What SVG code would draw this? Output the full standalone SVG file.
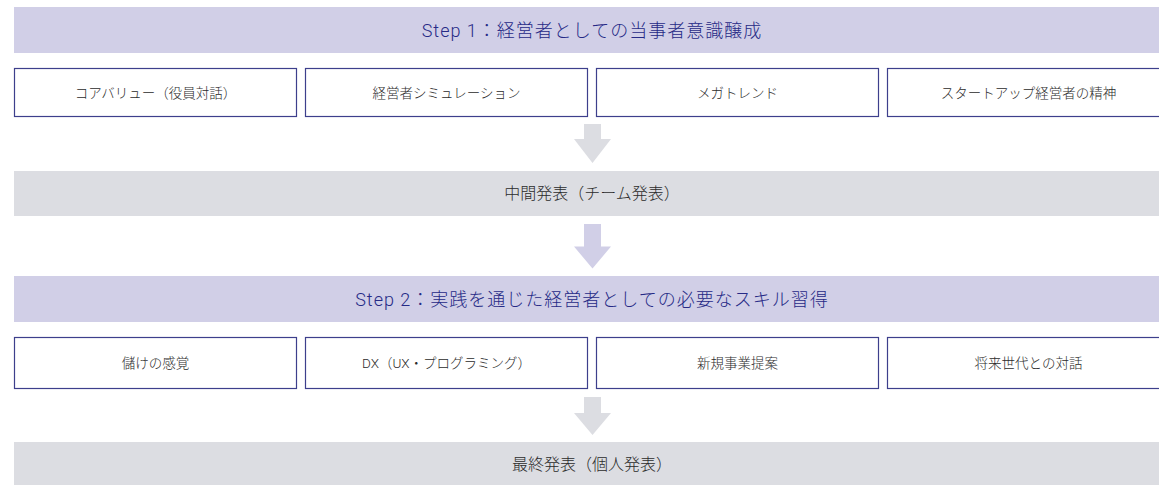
<svg xmlns="http://www.w3.org/2000/svg" width="1159" height="485" viewBox="0 0 1159 485">
<style>
.step{fill:#d1cfe7}
.gray{fill:#dcdde2}
.box{fill:#ffffff;stroke:#3d3f8c;stroke-width:1.2}
.title{font-family:Roboto,"Noto Sans CJK JP",sans-serif;font-size:18px;font-weight:300;letter-spacing:1px;fill:#262a86;text-anchor:middle}
.lbl{font-family:Roboto,"Noto Sans CJK JP",sans-serif;font-size:13.5px;font-weight:300;fill:#2b2b2b;text-anchor:middle}
.mid{font-family:Roboto,"Noto Sans CJK JP",sans-serif;font-size:16px;font-weight:300;fill:#2b2b2b;text-anchor:middle}
.ag{fill:#dcdde2}
.al{fill:#d1cfe7}
</style>
<rect width="1159" height="485" fill="#ffffff"/>
<g id="step1"><rect class="step" x="14" y="7" width="1156" height="46"/><text class="title" x="592" y="37">Step 1：経営者としての当事者意識醸成</text></g>
<g id="b1"><rect class="box" x="14.5" y="68.5" width="282" height="48"/><text class="lbl" x="155.5" y="98">コアバリュー（役員対話）</text></g>
<g id="b2"><rect class="box" x="305.5" y="68.5" width="282" height="48"/><text class="lbl" x="446.5" y="98">経営者シミュレーション</text></g>
<g id="b3"><rect class="box" x="596.5" y="68.5" width="282" height="48"/><text class="lbl" x="737.5" y="98">メガトレンド</text></g>
<g id="b4"><rect class="box" x="887.5" y="68.5" width="282" height="48"/><text class="lbl" x="1028.5" y="98">スタートアップ経営者の精神</text></g>
<g id="mid"><rect class="gray" x="14" y="171" width="1156" height="45"/><text class="mid" x="592" y="199">中間発表（チーム発表）</text></g>
<g id="step2"><rect class="step" x="14" y="276" width="1156" height="46"/><text class="title" x="592" y="306">Step 2：実践を通じた経営者としての必要なスキル習得</text></g>
<g id="c1"><rect class="box" x="14.5" y="337.5" width="282" height="51"/><text class="lbl" x="155.5" y="368">儲けの感覚</text></g>
<g id="c2"><rect class="box" x="305.5" y="337.5" width="282" height="51"/><text class="lbl" x="446.5" y="368">DX（UX・プログラミング）</text></g>
<g id="c3"><rect class="box" x="596.5" y="337.5" width="282" height="51"/><text class="lbl" x="737.5" y="368">新規事業提案</text></g>
<g id="c4"><rect class="box" x="887.5" y="337.5" width="282" height="51"/><text class="lbl" x="1028.5" y="368">将来世代との対話</text></g>
<g id="final"><rect class="gray" x="14" y="442" width="1156" height="43"/><text class="mid" x="592" y="470">最終発表（個人発表）</text></g>
<g id="connectors">
<polygon class="ag" points="584,124 601,124 601,139 611,139 592.5,163 574,139 584,139"/>
<polygon class="al" points="584,224 601,224 601,246.5 611,246.5 592.5,268.5 574,246.5 584,246.5"/>
<polygon class="ag" points="584,397 601,397 601,413 611,413 592.5,435 574,413 584,413"/>
</g>
</svg>
